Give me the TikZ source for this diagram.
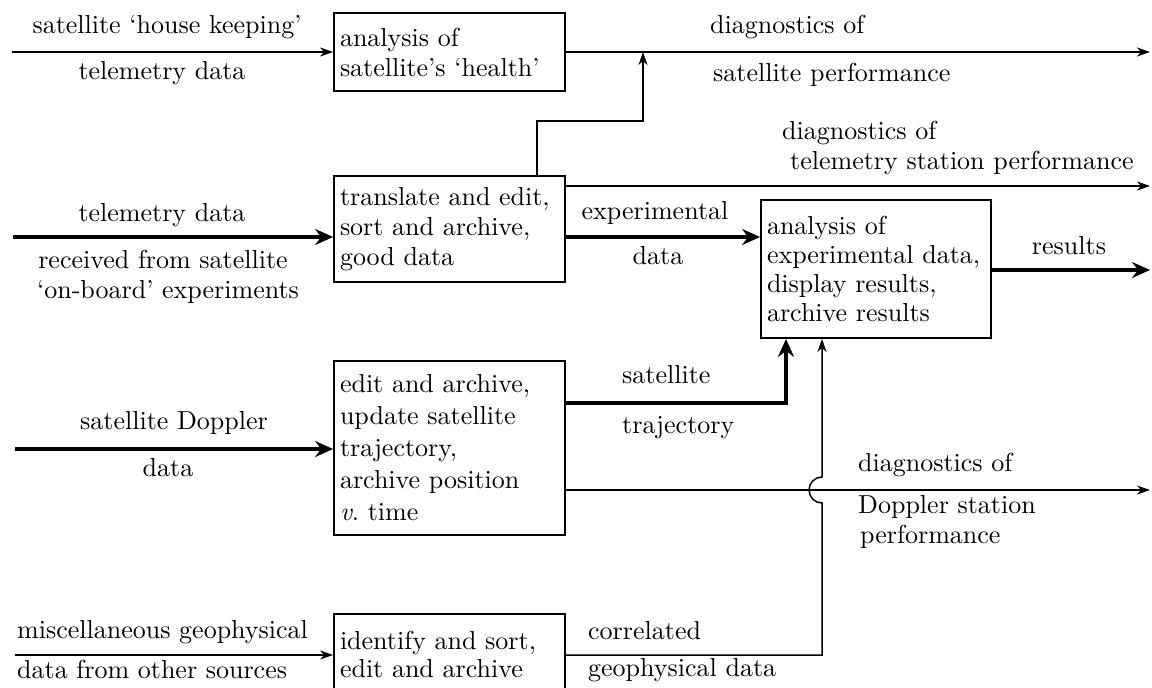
\documentclass[tikz,border=0pt]{standalone}
\usetikzlibrary{arrows.meta,calc}
\font\bigrm="[lmroman10-regular]:mapping=tex-text" at 26pt
\font\bigit="[lmroman10-italic]:mapping=tex-text" at 26pt
\newcommand\fontA{\bigrm\baselineskip 30pt\relax}
\newcommand\fontB{\bigrm\baselineskip 29pt\relax}
\newcommand\fontC{\bigrm\baselineskip 32pt\relax}
\newcommand\fontD{\bigrm\baselineskip 28pt\relax}
\begin{document}
\begin{tikzpicture}[x=1pt,y=-1pt,
  every node/.style={font=\fontA, inner sep=0pt},
  box/.style={draw, line width=1.8pt, inner xsep=6pt, inner ysep=0pt, text width=219pt, align=left, minimum width=231pt},
  thinarr/.style={line width=1.5pt, -{Stealth[length=13pt,width=9pt,inset=4pt]}},
  thickarr/.style={line width=4.5pt, line join=miter, -{Stealth[length=18pt,width=16pt,inset=6pt]}},
  lbl/.style={anchor=base},
  lblw/.style={anchor=base west},
]
\useasboundingbox (0,0) rectangle (1152,688);
\clip (0,0) rectangle (1152,688);

% boxes
\node[box, minimum height=78pt] (b1) at (449.5,52) {analysis of\\satellite’s ‘health’};
\node[box, minimum height=106pt] (b2) at (449.5,229) {translate and edit,\\sort and archive,\\good data};
\node[box, minimum height=138pt, text width=218pt, minimum width=230pt, font=\fontB] (b3) at (876,269) {analysis of\\experimental data,\\display results,\\archive results};
\node[box, minimum height=174pt, font=\fontC] (b4) at (449.5,448) {edit and archive,\\update satellite\\trajectory,\\archive position\\{\bigit v}.\ time};
\node[box, minimum height=80pt, font=\fontD] (b5) at (449.5,654) {identify and sort,\\edit and archive};

% coordinates
\coordinate (in1) at (12,52);
\coordinate (out1) at (1150,52);
\coordinate (s1) at (537,121);
\coordinate (s2) at (643,121);
\coordinate (s3) at (643,52);
\coordinate (in2) at (13,237);
\coordinate (out2) at (1150,186);
\coordinate (out3) at (1150,270);
\coordinate (in4) at (15,449);
\coordinate (t1) at (786,403);
\coordinate (out4) at (1150,490);
\coordinate (in5) at (15,655);
\coordinate (c1) at (822,655);
\coordinate (c2) at (822,503);

% connectors
\draw[thinarr] (in1) -- (b1.west);
\draw[thinarr] (b1.east) -- (out1);
\draw[thinarr] (b2.north -| s1) -- (s1) -- (s2) -- (s3);
\draw[thickarr] (in2) -- (in2 -| b2.west);
\draw[thinarr] (out2 -| b2.east) -- (out2);
\draw[thickarr] (b2.east |- in2) -- (b3.west |- in2);
\draw[thickarr] (b3.east |- out3) -- (out3);
\draw[thickarr] (in4) -- (in4 -| b4.west);
\draw[thickarr] (b4.east |- t1) -- (t1) -- (t1 |- b3.south);
\draw[thinarr] (b4.east |- out4) -- (out4);
\draw[thinarr] (in5) -- (in5 -| b5.west);
\draw[thinarr] (b5.east |- c1) -- (c1) -- (c2) arc[start angle=90, end angle=270, radius=13] -- (c2 |- b3.south);

% labels
\node[lbl] (l1a) at (167,34) {satellite ‘house keeping’};
\node[lbl] (l1b) at (162,79) {telemetry data};
\node[lblw] (l1c) at (710,34) {diagnostics of};
\node[lblw] (l1d) at (713,81) {satellite performance};
\node[lblw] (l2c) at (782,139) {diagnostics of};
\node[lblw] (l2d) at (790,169) {telemetry station performance};
\node[lbl] (l2a) at (162,221) {telemetry data};
\node[lbl] (l2b) at (163,268) {received from satellite};
\node[lbl] (l2e) at (168,298) {‘on-board’ experiments};
\node[lbl] (l3a) at (655,219) {experimental};
\node[lbl] (l3b) at (658,264) {data};
\node[lbl] (l3c) at (1069,254) {results};
\node[lbl] (l4a) at (174,429) {satellite Doppler};
\node[lbl] (l4b) at (168,476) {data};
\node[lblw] (l4c) at (622,383) {satellite};
\node[lblw] (l4d) at (622,433) {trajectory};
\node[lblw] (l4e) at (858,471) {diagnostics of};
\node[lblw] (l4f) at (858,513) {Doppler station};
\node[lblw] (l4g) at (860,543) {performance};
\node[lblw] (l5a) at (588,639) {correlated};
\node[lblw] (l5b) at (588,676) {geophysical data};
\node[lblw] (l5c) at (17,638) {miscellaneous geophysical};
\node[lblw] (l5d) at (17,678) {data from other sources};
\end{tikzpicture}
\end{document}
